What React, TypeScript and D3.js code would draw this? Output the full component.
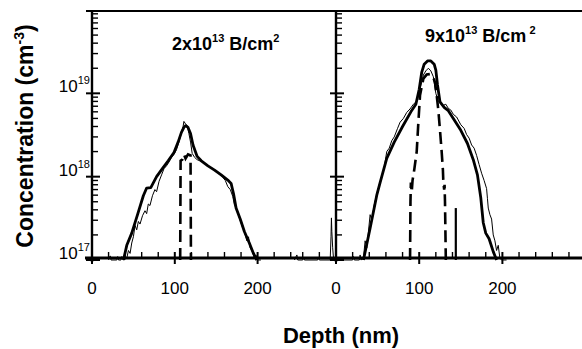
import * as d3 from 'd3'

type Pt = [number, number]

// depth (nm), boron concentration (cm^-3)
const leftSim: Pt[] = [
  [38, 1.0e17], [42, 1.5e17], [48, 2.1e17], [55, 3.5e17], [62, 5.9e17], [66, 7.3e17], [71, 7.4e17],
  [78, 1.0e18], [85, 1.25e18], [92, 1.55e18], [99, 1.95e18], [104, 2.6e18], [108, 3.4e18], [111, 3.9e18],
  [113, 4.1e18], [116, 3.9e18], [119, 3.3e18], [122, 2.4e18], [127, 1.75e18], [132, 1.55e18], [140, 1.35e18],
  [148, 1.2e18], [156, 1.05e18], [164, 9.1e17], [168, 8.3e17], [171, 6.2e17], [174, 4.2e17], [179, 3.1e17],
  [184, 2.2e17], [190, 1.6e17], [195, 1.2e17], [199, 1.0e17],
]

const leftSims: Pt[] = [
  [20, 1.0e17], [22, 1.12e17], [23, 1.0e17], [30, 1.0e17], [31, 1.1e17], [32, 1.0e17], [35, 1.0e17],
  [36, 1.1e17], [38, 1.0e17], [42, 1.05e17], [44, 1.3e17], [46, 1.2e17], [48, 1.6e17], [50, 1.9e17],
  [52, 2.6e17], [54, 2.3e17], [56, 2.9e17], [58, 2.7e17], [61, 3.4e17], [64, 3.9e17], [66, 3.6e17],
  [68, 4.7e17], [70, 4.5e17], [73, 5.9e17], [76, 7.0e17], [78, 6.6e17], [81, 8.8e17], [84, 1.05e18],
  [87, 1.25e18], [90, 1.35e18], [93, 1.5e18], [96, 1.7e18], [99, 1.85e18], [102, 2.1e18], [105, 2.6e18],
  [108, 3.4e18], [110, 4.0e18], [111, 4.6e18], [113, 4.3e18], [115, 4.1e18], [117, 3.3e18], [119, 2.6e18],
  [121, 1.9e18], [124, 1.7e18], [127, 1.6e18], [130, 1.55e18], [134, 1.5e18], [138, 1.38e18], [142, 1.3e18],
  [146, 1.25e18], [150, 1.15e18], [154, 1.08e18], [158, 9.8e17], [161, 9.0e17], [164, 7.6e17], [167, 7.0e17],
  [170, 5.8e17], [172, 4.6e17], [175, 4.0e17], [178, 3.2e17], [181, 2.6e17], [184, 2.2e17], [187, 1.7e17],
  [189, 1.9e17], [191, 1.4e17], [194, 1.25e17], [196, 1.05e17], [198, 1.15e17], [200, 1.0e17], [204, 1.0e17],
]

const leftImplant: Pt[] = [
  [106.5, 1.0e17], [107, 1.55e18], [109, 1.6e18], [111, 1.85e18], [113, 1.65e18], [116, 1.85e18],
  [119, 1.8e18], [119.5, 1.0e17],
]

const rightSim: Pt[] = [
  [33, 1.0e17], [41, 2.4e17], [49, 6.0e17], [53, 8.5e17], [61, 1.66e18], [70, 2.6e18], [80, 4.0e18],
  [90, 6.0e18], [96, 7.4e18], [100, 1.12e19], [103, 1.78e19], [106, 2.24e19], [110, 2.45e19], [114, 2.45e19],
  [118, 2.24e19], [120, 1.9e19], [122, 1.26e19], [125, 7.9e18], [130, 6.8e18], [135, 6.2e18], [141, 5.0e18],
  [150, 3.6e18], [158, 2.5e18], [165, 1.6e18], [170, 1.05e18], [174, 5.6e17], [177, 2.8e17], [180, 2.1e17],
  [184, 1.8e17], [189, 1.26e17], [193, 1.0e17],
]

const rightSims: Pt[] = [
  [-50, 1.0e17], [-47, 1.15e17], [-46, 1.0e17], [-40, 1.0e17], [-39, 1.08e17], [-38, 1.0e17], [-22, 1.0e17],
  [-21, 1.08e17], [-20, 1.0e17], [-7, 1.0e17], [-6, 1.9e17], [-5.5, 3.2e17], [-5, 2.2e17], [-4, 1.4e17],
  [-3, 1.05e17], [0, 1.0e17], [20, 1.0e17], [21, 1.1e17], [22, 1.0e17], [28, 1.0e17], [29, 1.15e17],
  [30, 1.0e17], [33, 1.05e17], [35, 1.7e17], [37, 1.4e17], [39, 2.2e17], [41, 3.5e17], [43, 3.0e17],
  [46, 4.6e17], [49, 6.2e17], [52, 8.0e17], [55, 1.0e18], [58, 1.3e18], [61, 2.0e18], [64, 2.2e18],
  [67, 2.7e18], [70, 3.0e18], [74, 3.8e18], [77, 4.5e18], [81, 5.0e18], [85, 5.9e18], [89, 6.5e18],
  [93, 7.4e18], [97, 8.0e18], [101, 1.12e19], [105, 1.66e19], [108, 1.86e19], [111, 2.0e19], [114, 1.86e19],
  [117, 1.58e19], [120, 1.0e19], [123, 8.0e18], [128, 7.1e18], [132, 7.4e18], [135, 6.6e18], [138, 6.3e18],
  [141, 5.6e18], [145, 5.2e18], [150, 4.2e18], [154, 3.8e18], [157, 3.2e18], [160, 2.9e18], [163, 2.4e18],
  [166, 2.2e18], [169, 1.8e18], [172, 1.4e18], [175, 1.1e18], [178, 9.0e17], [181, 7.2e17], [182, 5.5e17],
  [183, 4.2e17], [185, 3.5e17], [187, 3.1e17], [189, 2.0e17], [191, 1.7e17], [193, 1.3e17], [195, 1.5e17],
  [197, 1.05e17], [199, 1.0e17], [205, 1.0e17],
]

const rightImplant: Pt[] = [
  [89, 1.0e17], [89.5, 5.0e17], [90, 8.5e17], [91, 6.5e17], [92, 9.0e17], [94, 1.2e18], [97, 2.0e18],
  [99, 4.5e18], [101, 9.5e18], [105, 1.5e19], [109, 1.68e19], [113, 1.7e19], [117, 1.55e19], [119, 1.35e19],
  [121, 9.5e18], [123, 6.3e18], [125, 3.6e18], [127, 2.0e18], [128.5, 1.2e18], [129, 8.7e17], [130, 7.0e17],
  [130.5, 8.0e17], [131, 5.0e17], [132, 1.0e17],
]

const rightSpike: Pt[] = [[144, 1.0e17], [144, 4.2e17]]

const xLabels = [0, 100, 200]
const decades = [17, 18, 19]

const FONT = 'Liberation Sans, Arial, Helvetica, sans-serif'

const y = d3.scaleLog().domain([1e17, 1e20]).range([260, 10])
const AXIS_Y = 258
const TOP_Y = 11

const minorY: number[] = []
for (let e = 17; e < 20; e++) for (let m = 2; m <= 9; m++) minorY.push(m * 10 ** e)

function Panel({ x0, x, minorFrom, minorTo, sims, sim, implant, extra, showLabels }: {
  x0: number
  x: d3.ScaleLinear<number, number>
  minorFrom: number
  minorTo: number
  sims: Pt[]
  sim: Pt[]
  implant: Pt[]
  extra?: Pt[]
  showLabels: boolean
}) {
  const line = d3.line<Pt>().x(d => x(d[0])).y(d => y(d[1]))
  const minorX = d3.range(minorFrom, minorTo + 1, 20).filter(v => v % 100 !== 0)
  return (
    <g>
      <path d={line(sims) ?? ''} fill="none" stroke="#000" strokeWidth={1} strokeLinejoin="round" />
      <path d={line(sim) ?? ''} fill="none" stroke="#000" strokeWidth={2.8} strokeLinejoin="round" />
      <path d={line(implant) ?? ''} fill="none" stroke="#000" strokeWidth={2.6} strokeDasharray="12,6" />
      {extra && <path d={line(extra) ?? ''} fill="none" stroke="#000" strokeWidth={2.2} />}

      <line x1={x0} x2={x0} y1={TOP_Y} y2={262} stroke="#000" strokeWidth={2.4} />
      {decades.map(e => (
        <line key={e} x1={x0 - 6} x2={x0 + 8} y1={y(10 ** e)} y2={y(10 ** e)} stroke="#000" strokeWidth={2} />
      ))}
      {minorY.map(v => (
        <line key={v} x1={x0} x2={x0 + 6} y1={y(v)} y2={y(v)} stroke="#000" strokeWidth={1.4} />
      ))}
      {showLabels && decades.map(e => (
        <text key={e} x={x0 - 2} y={y(10 ** e) - 1} textAnchor="end" fontFamily={FONT} fontSize={17}>
          10<tspan fontSize={11} dy={-8}>{e}</tspan>
        </text>
      ))}

      {minorX.map(v => (
        <line key={v} x1={x(v)} x2={x(v)} y1={AXIS_Y} y2={AXIS_Y - 6} stroke="#000" strokeWidth={1.4} />
      ))}
      {xLabels.map(v => (
        <g key={v}>
          <line x1={x(v)} x2={x(v)} y1={AXIS_Y - 6} y2={AXIS_Y + 6} stroke="#000" strokeWidth={2} />
          <text x={x(v)} y={294} textAnchor="middle" fontFamily={FONT} fontSize={17}>{v}</text>
        </g>
      ))}
    </g>
  )
}

export default function App() {
  const xL = d3.scaleLinear().domain([0, 100]).range([92, 174.8])
  const xR = d3.scaleLinear().domain([0, 100]).range([336, 419.2])

  return (
    <svg width={582} height={349} style={{ position: 'absolute', left: 0, top: 0, background: '#fff' }}>
      <rect width={582} height={349} fill="#fff" />
      <line x1={86} x2={582} y1={TOP_Y} y2={TOP_Y} stroke="#000" strokeWidth={2} />
      <line x1={85} x2={582} y1={AXIS_Y} y2={AXIS_Y} stroke="#000" strokeWidth={2.8} />

      <Panel x0={92} x={xL} minorFrom={0} minorTo={240} sims={leftSims} sim={leftSim}
        implant={leftImplant} showLabels />
      <Panel x0={336} x={xR} minorFrom={-40} minorTo={280} sims={rightSims} sim={rightSim}
        implant={rightImplant} extra={rightSpike} showLabels={false} />

      <text x={172} y={50} fontFamily={FONT} fontWeight="bold" fontSize={18}>
        2x10<tspan fontSize={11} dy={-8}>13</tspan><tspan dy={8}> B/cm</tspan><tspan fontSize={11} dy={-8}>2</tspan>
      </text>
      <text x={425} y={42} fontFamily={FONT} fontWeight="bold" fontSize={18}>
        9x10<tspan fontSize={11} dy={-8}>13</tspan><tspan dy={8}> B/cm</tspan><tspan fontSize={11} dy={-8}> 2</tspan>
      </text>

      <text transform="translate(33,136) rotate(-90)" textAnchor="middle" fontFamily={FONT}
        fontWeight="bold" fontSize={23}>
        Concentration (cm<tspan fontSize={14} dy={-9}>-3</tspan><tspan dy={9}>)</tspan>
      </text>
      <text x={341} y={343} textAnchor="middle" fontFamily={FONT} fontWeight="bold" fontSize={22}>
        Depth (nm)
      </text>
    </svg>
  )
}
